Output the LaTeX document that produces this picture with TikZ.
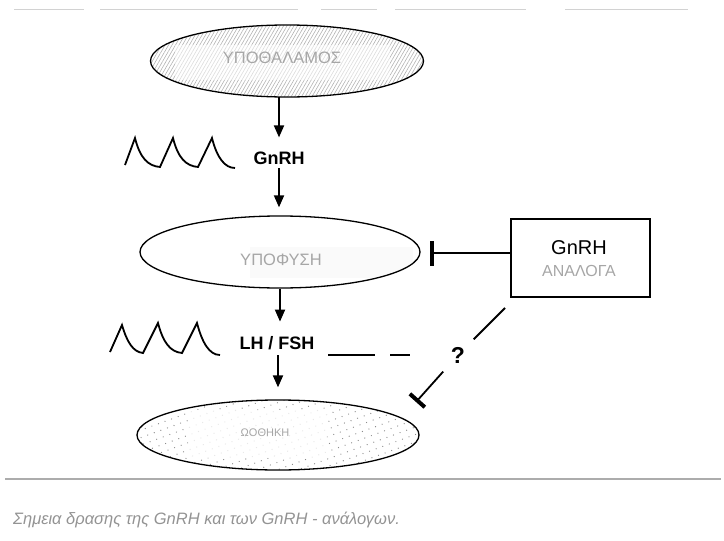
\documentclass[tikz,border=0pt]{standalone}
\usepackage{fontspec}
\setmainfont{Liberation Sans}
\usetikzlibrary{shapes.geometric,arrows.meta,patterns.meta}
\begin{document}
\begin{tikzpicture}[x=1pt,y=-1pt,
  organ/.style={ellipse, draw=black, line width=1.3pt, inner sep=0pt},
  glabel/.style={text=gray!70, inner sep=0pt, font=\fontsize{16.5}{18}\selectfont},
  blabel/.style={inner sep=0pt, font=\bfseries\fontsize{18}{20}\selectfont},
  arr/.style={line width=1.8pt, -{Triangle[width=10pt,length=12pt]}},
  inhib/.style={line width=1.4pt, -{Bar[width=25pt,line width=3.5pt]}},
  wave/.style={line width=1.8pt, line join=miter},
  rule/.style={gray!35, line width=1pt}
]
\useasboundingbox (0,0) rectangle (724,541);

% top and bottom rules
\draw[rule] (14,9) -- (84,9) (100,9) -- (298,9) (321,9) -- (377,9) (395,9) -- (526,9) (565,9) -- (688,9);
\draw[rule, gray!65, line width=1.2pt] (5,479) -- (721,479);

% hypothalamus
\node[organ, minimum width=273pt, minimum height=72pt,
      pattern={Lines[angle=60,distance=3pt,line width=0.6pt]}, pattern color=gray!60] (hyp) at (287,61) {};
\fill[white, opacity=0.55] (175,45) rectangle (390,80);
\node[glabel] (hypt) at (282,58) {ΥΠΟΘΑΛΑΜΟΣ};

% GnRH
\node[blabel] (g1) at (279,158) {GnRH};
\draw[wave] (125,165) -- (135,138) .. controls (140,158) and (148,166) .. (160,167)
  -- (173,138) .. controls (178,158) and (186,166) .. (198,167)
  -- (212,138) .. controls (217,158) and (225,168) .. (235,168);

% pituitary
\begin{scope}
  \clip (280,252) ellipse [x radius=140, y radius=36];
  \fill[gray!4] (250,247) rectangle (413,278);
\end{scope}
\node[organ, minimum width=280pt, minimum height=72pt] (pit) at (280,252) {};
\node[glabel] (pitt) at (281,260) {ΥΠΟΦΥΣΗ};

\draw[arr, shorten >=14pt] (g1 |- hyp.south) -- (g1.north);
\draw[arr, shorten <=3.5pt, shorten >=8pt] (g1.south) -- (g1.south |- pit.north);

% GnRH analogues box
\node[draw, line width=1.2pt, minimum width=139pt, minimum height=78pt] (box) at (580.5,258) {};
\node[inner sep=0pt, font=\fontsize{20}{22}\selectfont] (bg) at (579,248) {GnRH};
\node[glabel, font=\fontsize{16}{18}\selectfont] (ba) at (579,271) {ΑΝΑΛΟΓΑ};
\coordinate (pbar) at (430,253);
\draw[inhib] (box.west |- pbar) -- (pbar);

% LH / FSH
\node[blabel] (lh) at (277,343) {LH / FSH};
\draw[wave] (110,352) -- (122,325) .. controls (127,342) and (133,352) .. (143,353)
  -- (158,323) .. controls (163,342) and (170,352) .. (182,353)
  -- (197,323) .. controls (202,342) and (209,355) .. (220,355);
\draw[line width=1.3pt] (328,355) -- (375,355) (390,355) -- (410,355);

% ovary
\node[organ, minimum width=282pt, minimum height=70pt,
      pattern={Dots[radius=0.65pt,distance=7pt,angle=20]}, pattern color=gray!90] (ov) at (278,435) {};
\fill[white, opacity=0.8] (188,410) rectangle (327,458);
\node[glabel, font=\fontsize{11}{13}\selectfont] (ovt) at (265,433) {ΩΟΘΗΚΗ};

\draw[arr, shorten >=14.5pt] (pit.south) -- (pit.south |- lh.north);
\draw[arr, shorten <=5.5pt, shorten >=12pt] (ov.north |- lh.south) -- (ov.north);

% questioned action
\coordinate (q1) at (505,308);
\coordinate (q2) at (416,402);
\node[circle, minimum size=44pt, inner sep=0pt, font=\bfseries\fontsize{23}{25}\selectfont] (qm) at (458,355) {?};
\draw[line width=1.8pt] (q1) -- (qm);
\draw[line width=1.8pt, -{Bar[width=20pt,line width=4pt]}] (qm) -- (q2);

% caption
\node[anchor=west, inner sep=0pt, text=gray!85, font=\itshape\fontsize{16.5}{18}\selectfont] (cap) at (13,520)
  {Σημεια δρασης της GnRH και των GnRH - ανάλογων.};
\end{tikzpicture}
\end{document}
